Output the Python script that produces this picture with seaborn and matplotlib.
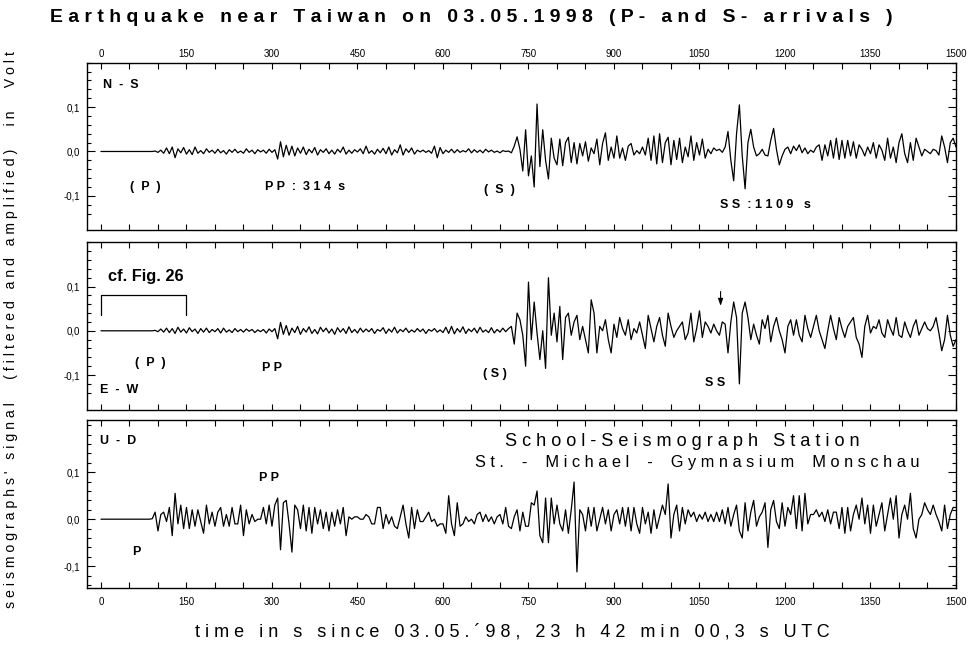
import numpy as np
import pandas as pd
import matplotlib
matplotlib.use("Agg")
import matplotlib.pyplot as plt
import seaborn as sns

# ---- seismogram samples (mV), one value every 5 s from 0 s to 1500 s ----
ns_mv = [
    0, 0, 0, 0, 0, 0, 0, 0, 0, 0,
    0, 0, 0, 0, 0, 0, 0, 0, 0, 1,
    -2, 3, -4, 8, -5, 10, -14, 6, -3, 9,
    -6, 4, -7, 10, -4, 2, -5, 6, -2, 3,
    -4, 5, -3, 2, -6, 4, -2, 5, -3, 1,
    -4, 6, -2, 3, -5, 4, -1, 3, -4, 5,
    -2, 4, -17, 22, -12, 14, -8, 12, -10, 8,
    -4, 10, -7, 5, -3, 9, -8, 4, -2, 6,
    -5, 3, -6, 5, -2, 10, -6, 3, -4, 4,
    -1, 6, -5, 12, -4, 2, -6, 5, -3, 7,
    -5, 10, -8, 4, -3, 15, -8, 6, -2, 8,
    -6, 3, -1, 3, -2, 2, -4, 12, -14, 9,
    -5, 3, -2, 5, -3, 4, -2, 2, -1, 6,
    -3, 4, -2, 3, -3, 5, -1, 3, -2, 1,
    -3, 2, 0, 1, -3, 12, 33, 5, -44, 49,
    -55, -10, -80, 107, -34, 49, -20, -62, 30, -15,
    -30, 28, -32, 20, 32, -25, 20, -28, 18, -10,
    22, -22, 8, -5, 28, -30, 18, 42, -20, 10,
    -15, 35, -15, 8, -20, 12, 18, -8, 2, -5,
    10, -8, 30, -20, 35, -28, 40, -25, 20, 32,
    -30, 25, -18, 30, -25, 10, -12, 35, -20, 20,
    -8, 28, -15, 5, -5, 8, 2, 5, -2, 10,
    45, -20, -66, 40, 105, -10, -84, 20, 50, 10,
    -10, -5, 5, -8, -10, 25, 52, 5, -30, -10,
    5, 10, -5, 12, 2, 15, -3, 8, -5, 3,
    -2, 10, 15, -20, 15, -10, 25, -15, 30, -18,
    25, -15, 25, -10, 22, -15, 15, 5, -10, 10,
    -5, 20, -15, 15, 3, -20, 30, -15, 10, -25,
    20, 40, -5, -25, 20, -20, 30, 10, -10, 5,
    0, -5, 5, 2, -8, 35, 10, -25, 20, 30,
    10,
]

ew_mv = [
    0, 0, 0, 0, 0, 0, 0, 0, 0, 0,
    0, 0, 0, 0, 0, 0, 0, 0, 0, 1,
    -2, 4, -3, 6, -4, 5, -6, 8, -3, 4,
    -5, 7, -2, 4, -6, 5, -3, 6, -4, 3,
    -2, 5, -5, 6, -3, 2, -4, 5, -2, 3,
    -3, 4, -1, 3, -4, 2, -2, 3, -5, 4,
    -2, 5, -18, 19, -8, 12, -10, 6, -4, 10,
    -8, 5, -3, 9, -6, 3, -7, 8, -2, 6,
    -5, 4, -8, 7, -3, 5, -6, 9, -4, 3,
    -5, 6, -3, 4, -2, 5, -6, 3, -1, 7,
    -6, 4, -3, 8, -5, 3, -2, 6, -4, 2,
    -3, 5, -2, 4, -6, 3, -1, 5, -3, 2,
    -4, 8, -6, 10, -7, 5, -3, 9, -6, 4,
    -2, 6, -5, 8, -3, 2, -4, 7, -5, 3,
    -3, 6, -2, 5, 10, -30, 40, 25, -10, -80,
    110, -20, 65, -5, -65, 0, -85, 120, -10, 40,
    -25, 55, -65, 30, 40, -10, 20, 35, -20, 10,
    -20, -50, 70, 40, -50, 10, 0, 25, -20, -50,
    15, -15, 30, 5, -10, 25, -20, 5, -5, 20,
    -10, -40, 35, 5, -25, 10, 30, -10, -35, 40,
    10, -15, 0, 10, 20, -20, -5, 40, -25, 5,
    45, -15, 20, 10, -5, 15, 0, -10, 20, 15,
    -50, 20, 65, 30, -120, 40, 65, 30, -20, 15,
    -10, -30, 25, 5, 35, -25, 10, 30, 0, -20,
    -50, 10, 25, -10, 25, -10, -25, 35, 5, -15,
    10, 35, 0, -20, -40, 0, 35, 5, -20, 30,
    5, -15, 10, 20, 30, -15, -30, -60, 10, 35,
    -5, 10, 5, 25, -5, -15, 25, 5, -10, 30,
    -10, -15, 20, 0, -15, 10, 25, -10, 5, 20,
    5, 0, 10, 30, -5, -45, -20, 35, -10, -35,
    -20,
]

ud_mv = [
    0, 0, 0, 0, 0, 0, 0, 0, 0, 0,
    0, 0, 0, 0, 0, 0, 0, 0, 1, 15,
    -25, 10, 15, -5, 25, -35, 55, -10, 30, -20,
    25, -20, 20, -15, 20, -5, -30, 30, -10, 15,
    -15, 15, 25, -15, 10, -15, 25, -10, -10, 30,
    -35, 20, -10, 10, -5, 0, 0, 25, -10, 30,
    -15, 30, 45, -65, 35, 40, -10, -70, 30, 20,
    -20, 30, -25, 25, -30, 25, -10, 20, -20, 15,
    -25, 15, -15, 20, -10, 25, -35, 5, 0, 5,
    5, 0, 0, 10, 5, -10, -10, 25, 25, -20,
    10, -10, 5, -15, -20, 5, 30, -10, -40, 25,
    -20, 20, -5, -5, 5, 15, -5, 0, -15, -10,
    -10, -30, 50, -10, -35, 35, -15, -10, 5, -5,
    0, -10, 10, 15, -5, 10, -5, 5, -10, 5,
    10, -10, 25, -15, -20, 5, 20, -25, 15, -15,
    -15, 35, 30, 60, -35, -50, 45, -50, 45, -10,
    30, -10, -25, 20, -30, 20, 79, -112, 20, 10,
    -25, 25, -15, 25, -25, 0, 25, -10, 20, -25,
    10, 20, -10, 25, -15, 25, -25, 25, -10, -30,
    25, -10, 15, -30, 20, -20, 5, 30, 10, 75,
    -40, 10, 30, -25, 25, -10, 20, 5, 15, -5,
    10, 0, 15, -5, 10, -5, 15, -5, 20, -10,
    25, -15, 10, 30, -25, -40, 35, -25, 15, 40,
    -15, 5, 15, 35, -60, 20, 40, -5, -20, 35,
    -15, 25, 10, 50, -20, 50, -25, 55, -10, 10,
    10, 20, 5, 15, -5, 20, -10, 15, 15, -20,
    25, -30, 25, -25, 10, 30, 0, 45, -10, 30,
    -30, 30, -15, 10, 35, -25, 10, 45, 0, 50,
    -40, 10, 30, 0, 55, -20, -40, 0, 10, 35,
    20, 10, 30, 10, -5, -25, 30, -20, 10, 25,
    25,
]

time_s = np.arange(0, 1505, 5)
x_major = np.arange(0, 1501, 150)
y_major = [-0.1, 0.0, 0.1]
y_labels = ["-0,1", "0,0", "0,1"]

FONT = ["Liberation Sans", "DejaVu Sans"]
sns.set_theme(style="ticks")
plt.rcParams["font.family"] = FONT

W, H = 978, 653


def spread(text, word_gap=3):
    """Letter-spaced text: one space between letters, wider gaps between words."""
    return (" " * word_gap).join(" ".join(word) for word in text.split(" "))


fig = plt.figure(figsize=(W / 100, H / 100), dpi=100)
fig.patch.set_facecolor("white")

# panel boxes in pixels: (top, bottom) plus y-limits
x_left_px, x_right_px = 87, 956
boxes = [
    (62.7, 230.5, (-0.178, 0.179)),
    (242.3, 410.0, (-0.179, 0.177)),
    (420.0, 588.3, (-0.147, 0.211)),
]
traces = [ns_mv, ew_mv, ud_mv]
axes = []
for i, ((top_px, bot_px, ylim), mv) in enumerate(zip(boxes, traces)):
    ax = fig.add_axes([x_left_px / W, 1 - bot_px / H,
                       (x_right_px - x_left_px) / W, (bot_px - top_px) / H])
    ax.set_facecolor("white")
    df = pd.DataFrame({"t": time_s, "v": np.asarray(mv) / 1000.0})
    sns.lineplot(data=df, x="t", y="v", ax=ax, color="black", linewidth=0.9,
                 estimator=None, sort=False)
    for line in ax.lines:
        line.set_solid_joinstyle("round")
    ax.set_xlim(-24.5, 1500)
    ax.set_ylim(*ylim)
    ax.set_xlabel("")
    ax.set_ylabel("")
    ax.set_xticks(x_major)
    ax.set_xticks(np.arange(0, 1501, 50), minor=True)
    ax.set_yticks(y_major)
    ax.set_yticklabels(y_labels)
    ax.set_yticks(np.arange(-0.14, 0.201, 0.02), minor=True)
    for s in ax.spines.values():
        s.set_visible(True)
        s.set_color("black")
        s.set_linewidth(1.0)
    ax.tick_params(axis="both", which="both", direction="in", top=True,
                   right=True, colors="black", labelsize=7, width=0.8)
    ax.tick_params(axis="x", which="both", length=4)
    ax.tick_params(axis="y", which="major", length=6, pad=5)
    ax.tick_params(axis="y", which="minor", length=3)
    ax.tick_params(axis="y", labelleft=True, labelright=False)
    if i == 0:
        ax.tick_params(axis="x", labeltop=True, labelbottom=False, pad=3)
    elif i == 1:
        ax.tick_params(axis="x", labeltop=False, labelbottom=False)
    else:
        ax.tick_params(axis="x", labeltop=False, labelbottom=True, pad=6)
    axes.append(ax)

ax1, ax2, ax3 = axes

# the bracket over the first 150 s of the E-W trace, and the arrow at SS
ax2.plot([0, 0, 150, 150], [0.036, 0.081, 0.081, 0.036], color="black",
         linewidth=0.9)
ax2.annotate("", xy=(1087, 0.050), xytext=(1087, 0.095),
             arrowprops=dict(arrowstyle="-|>,head_length=0.35,head_width=0.12",
                             color="black", lw=0.8))

fig.canvas.draw()
renderer = fig.canvas.get_renderer()


def put(s, x0, yc, size=9, **kw):
    """Place text with its left edge at x0 and vertical centre at yc (pixels)."""
    return fig.text(x0 / W, 1 - yc / H, s, fontsize=size, ha="left",
                    va="center", color="black", **kw)


def fit_text(s, x0, x1, yc, size, **kw):
    """Place text at x0 and scale its font so that it ends at x1 (pixels)."""
    t = put(s, x0, yc, size, **kw)
    width = t.get_window_extent(renderer).width
    t.set_fontsize(size * (x1 - x0) / width)
    return t


bold = dict(fontweight="bold")

# N-S panel
put("N  -  S", 103, 85, **bold)
put("(  P  )", 130, 187, **bold)
put("P P  :  3 1 4  s", 265, 187, **bold)
put("(  S  )", 484, 190, **bold)
put("S S  : 1 1 0 9   s", 720, 205, **bold)

# E-W panel
fit_text("cf. Fig. 26", 108, 184, 276, 11.5, **bold)
put("(  P  )", 135, 363, **bold)
put("P P", 262, 368, **bold)
put("( S )", 483, 374, **bold)
put("S S", 705, 383, **bold)
put("E  -  W", 100, 390, **bold)

# U-D panel
put("U  -  D", 100, 441, **bold)
put("P P", 259, 478, **bold)
put("P", 132, 552, **bold)
fit_text(spread("School-Seismograph Station"), 505, 860, 442, 11)
fit_text(spread("St. - Michael - Gymnasium Monschau", 4), 475, 921, 462, 11)

# figure title and axis captions
fit_text(spread("Earthquake near Taiwan on 03.05.1998 (P- and S- arrivals )"),
         50, 900, 17, 12.5, **bold)
fit_text(spread("time in s since 03.05.´98, 23 h 42 min 00,3 s UTC"),
         195, 832, 632, 10)

ylab = fig.text(11 / W, 1 - 330 / H,
                spread("seismographs' signal  (filtered and amplified)  in  Volt"),
                ha="center", va="center", rotation=90, fontsize=8,
                color="black")
span = ylab.get_window_extent(renderer).height
ylab.set_fontsize(8 * (612 - 48) / span)

fig.savefig("out.png", dpi=100, facecolor="white")
